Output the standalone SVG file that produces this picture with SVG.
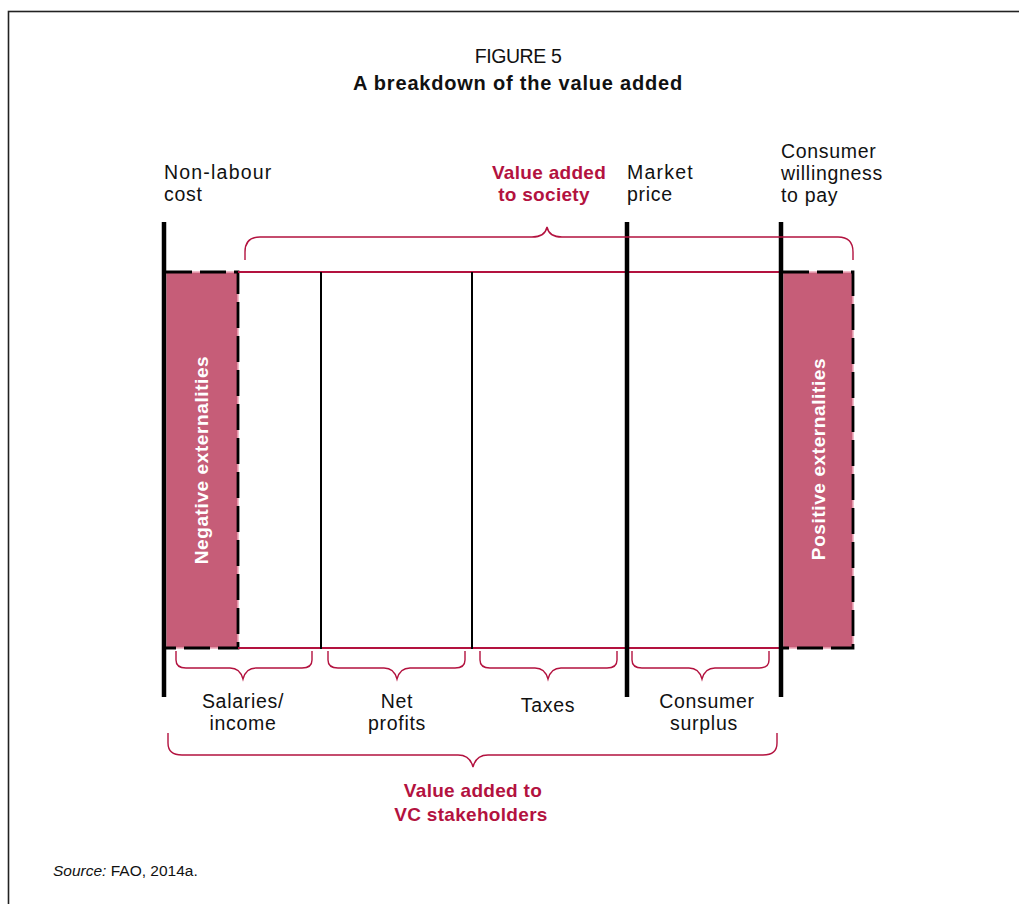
<svg xmlns="http://www.w3.org/2000/svg" width="1019" height="904" viewBox="0 0 1019 904">
<style>
text{font-family:"Liberation Sans",Arial,sans-serif;fill:#111;font-size:19.5px;letter-spacing:0.7px}
.b{font-weight:bold}
.red{fill:#B3123F;font-size:19px;letter-spacing:0.3px}
.c{text-anchor:middle}
.w{fill:#fff;font-weight:bold;font-size:19px;letter-spacing:0.6px}
.brace{fill:none;stroke:#B3123F;stroke-width:1.4}
.thick{stroke:#000;stroke-width:4.5}
.thin{stroke:#000;stroke-width:2}
.redline{stroke:#B3123F;stroke-width:2.2}
.pink{fill:#C65D78;stroke:#EBA9B9;stroke-width:1.5}
.dash{fill:none;stroke:#000;stroke-width:2.8;stroke-dasharray:26 8}
</style>
<rect x="0" y="0" width="1019" height="904" fill="#fff"/>
<rect x="8.5" y="11.5" width="1100" height="1000" fill="none" stroke="#222" stroke-width="1.6"/>
<g id="title">
<text x="518" y="63" class="c" style="letter-spacing:-0.4px">FIGURE 5</text>
<text x="518" y="90" class="c b" style="font-size:20px;letter-spacing:0.8px">A breakdown of the value added</text>
</g>
<g id="neg-ext">
<rect class="pink" x="166" y="272" width="72" height="376"/>
<path class="dash" d="M166,272 H238 V648 H166"/>
<text class="w c" transform="translate(208,460) rotate(-90)">Negative externalities</text>
</g>
<g id="pos-ext">
<rect class="pink" x="783" y="272" width="70" height="376"/>
<path class="dash" d="M783,272 H853 V648 H783"/>
<text class="w c" transform="translate(825,459) rotate(-90)">Positive externalities</text>
</g>
<g id="bar">
<line class="redline" x1="238" y1="272" x2="781" y2="272"/>
<line class="redline" x1="238" y1="648" x2="781" y2="648"/>
<line class="thin" x1="321" y1="272" x2="321" y2="649"/>
<line class="thin" x1="472" y1="272" x2="472" y2="649"/>
</g>
<g id="markers">
<line class="thick" x1="164" y1="222" x2="164" y2="697"/>
<line class="thick" x1="627" y1="222" x2="627" y2="697"/>
<line class="thick" x1="781" y1="222" x2="781" y2="697"/>
</g>
<g id="connectors">
<path class="brace" d="M245,260 V252 Q245,237 260,237 H532 Q545,237 547,227 Q549,237 562,237 H838 Q853,237 853,252 V260"/>
<path class="brace" d="M176,651 V660 Q176,668 186,668 H230 Q240,668 243,679 Q246,668 256,668 H302 Q312,668 312,660 V651"/>
<path class="brace" d="M328,651 V660 Q328,668 338,668 H384 Q394,668 397,679 Q400,668 410,668 H455 Q465,668 465,660 V651"/>
<path class="brace" d="M480,651 V660 Q480,668 490,668 H535 Q545,668 548,679 Q551,668 561,668 H607 Q617,668 617,660 V651"/>
<path class="brace" d="M632,651 V660 Q632,668 642,668 H689 Q699,668 702,679 Q705,668 715,668 H759 Q769,668 769,660 V651"/>
<path class="brace" d="M168,733 V743 Q168,755 182,755 H458 Q470,755 473,767 Q476,755 488,755 H763 Q777,755 777,743 V733"/>
</g>
<g id="labels-top">
<text x="164" y="179"><tspan x="164" style="letter-spacing:1.2px">Non-labour</tspan><tspan x="164" dy="22">cost</tspan></text>
<text x="549" y="179" class="c b red"><tspan x="549">Value added</tspan><tspan x="544" dy="22">to society</tspan></text>
<text x="627" y="179"><tspan x="627" style="letter-spacing:1.2px">Market</tspan><tspan x="627" dy="22">price</tspan></text>
<text x="781" y="158"><tspan x="781">Consumer</tspan><tspan x="781" dy="22">willingness</tspan><tspan x="781" dy="22">to pay</tspan></text>
</g>
<g id="labels-bottom">
<text x="243" y="708" class="c"><tspan x="243">Salaries/</tspan><tspan x="243" dy="22">income</tspan></text>
<text x="397" y="708" class="c"><tspan x="397">Net</tspan><tspan x="397" dy="22">profits</tspan></text>
<text x="548" y="712" class="c">Taxes</text>
<text x="706" y="708" class="c"><tspan x="707">Consumer</tspan><tspan x="704" dy="22">surplus</tspan></text>
<text x="473" y="797" class="c b red"><tspan x="473">Value added to</tspan><tspan x="471" dy="24">VC stakeholders</tspan></text>
</g>
<text x="53" y="876" style="font-size:15.5px;letter-spacing:0"><tspan font-style="italic">Source:</tspan> FAO, 2014a.</text>
</svg>
